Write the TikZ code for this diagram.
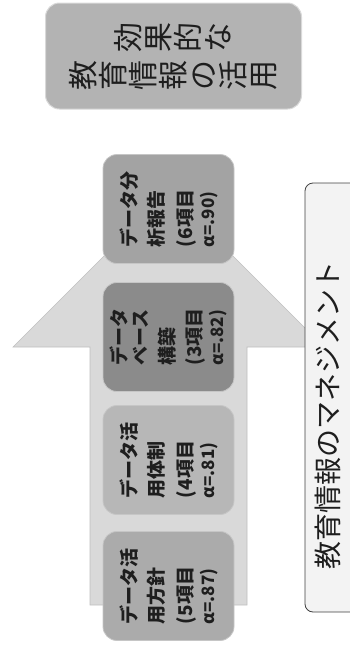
\documentclass[tikz,border=0pt]{standalone}
\usepackage{fontspec}
\setmainfont{Noto Sans CJK JP}
\definecolor{arrowc}{HTML}{D9D9D9}
\definecolor{bxa}{HTML}{A3A3A3}
\definecolor{bxb}{HTML}{8B8B8B}
\definecolor{bxc}{HTML}{B7B7B7}
\definecolor{bxd}{HTML}{ABABAB}
\definecolor{topc}{HTML}{B3B3B3}
\definecolor{rbox}{HTML}{F3F3F3}
\definecolor{txt}{HTML}{1E1E1E}
\newcommand\rotch[1]{\rotatebox{90}{\rule[-0.12em]{0pt}{1em}#1}}
\begin{document}
\begin{tikzpicture}[x=1pt,y=-1pt,
  stepbox/.style={rotate=90, rounded corners=14pt, draw=white!55!gray, line width=0.8pt,
    minimum width=109pt, minimum height=131pt, inner sep=0pt, align=left, text=txt,
    font=\fontsize{19}{27}\selectfont\bfseries}]
\useasboundingbox (0,0) rectangle (350,649);
% big arrow
\path[fill=arrowc, draw=black!25, line width=0.6pt]
  (90,605) coordinate (a1) -- (90,347) -- (13,347) -- (168.5,191.5) coordinate (apex)
  -- (324,347) -- (247,347) -- (247,605) -- cycle;
% top box
\node[rounded corners=14pt, fill=topc, draw=white!70!gray, line width=1pt,
  minimum width=256pt, minimum height=106pt, align=center, text=txt,
  font=\fontsize{30}{38}\selectfont] (goal) at (173.5,56)
  {\rotch{効}\rotch{果}\rotch{的}\rotch{な}\\
   \rotch{教}\rotch{育}\rotch{情}\rotch{報}\rotch{の}\rotch{活}\rotch{用}};
% step boxes
\node[stepbox, fill=bxa] (s4) at (168.5,209)
  {データ分\\析報告\\[2pt](6項目\\[-5pt]{\fontsize{17}{17}\selectfont α=.90)}};
\node[stepbox, fill=bxb] (s3) at (168.5,337)
  {データ\\[-6pt]ベース\\構築\\(3項目\\[-5pt]{\fontsize{17}{17}\selectfont α=.82)}};
\node[stepbox, fill=bxc] (s2) at (168.5,460)
  {データ活\\用体制\\[2pt](4項目\\[-5pt]{\fontsize{17}{17}\selectfont α=.81)}};
\node[stepbox, fill=bxd] (s1) at (168.5,586)
  {データ活\\用方針\\[2pt](5項目\\[-5pt]{\fontsize{17}{17}\selectfont α=.87)}};
% right box
\node[rotate=90, rounded corners=8pt, fill=rbox, draw=black!75, line width=0.8pt,
  minimum width=429pt, minimum height=60pt, inner sep=0pt] (mgmt) at (335,397.5) {};
\node[rotate=90, text=txt, font=\fontsize{28}{30}\selectfont] (mgmtt) at (328,415)
  {教育情報のマネジメント};
\end{tikzpicture}
\end{document}
